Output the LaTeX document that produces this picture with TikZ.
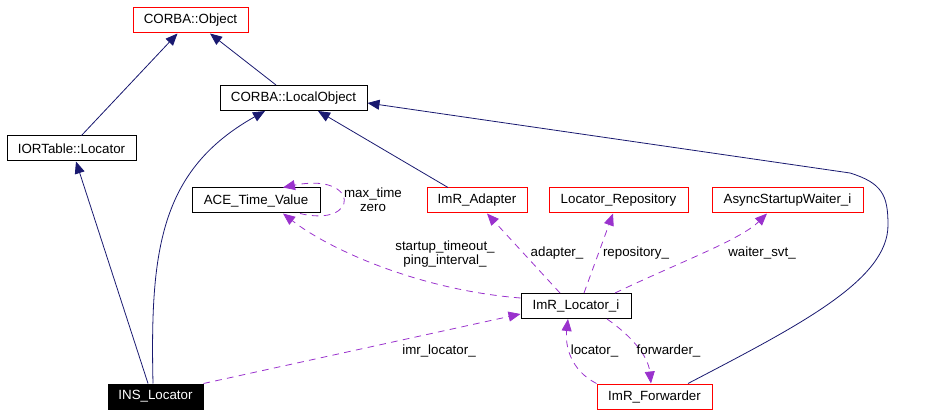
\documentclass[tikz,border=0pt]{standalone}
\usepackage{fontspec}
\setmainfont{Liberation Sans}
\usetikzlibrary{calc, arrows.meta}
\definecolor{inheritblue}{HTML}{191970}
\definecolor{usepurple}{HTML}{9A32CD}
\tikzset{
    classbox/.style={draw=black, line width=0.75pt, minimum height=18.75pt,
        inner xsep=2pt, font=\fontsize{10}{10.5}\selectfont},
    refbox/.style={classbox, draw=red},
    focusbox/.style={classbox, fill=black, text=white},
    inherit/.style={draw=inheritblue, line width=0.6pt,
        -{Triangle[length=9pt, width=7.5pt]}},
    uses/.style={draw=usepurple, line width=0.6pt, dash pattern=on 5pt off 4pt,
        -{Triangle[length=9pt, width=7.5pt]}},
    edgelabel/.style={font=\fontsize{10}{10.5}\selectfont, align=center,
        inner sep=0pt},
}

\begin{document}
\begin{tikzpicture}[x=0.75pt, y=-0.75pt]
        \useasboundingbox (0, 0) rectangle (949, 416); % Page frame
        \node[refbox, minimum width=86.25pt] (corbaobject) at (190.5, 20.5)
            {CORBA::Object}; % Root class
        \node[classbox, minimum width=110.25pt] (localobject) at (293.5, 98)
            {CORBA::LocalObject};
        \node[classbox, minimum width=96.75pt] (iortable) at (71.5, 148.5)
            {IORTable::Locator};
        \node[classbox, minimum width=96pt] (timevalue) at (256, 200.5)
            {ACE\_Time\_Value};
        \foreach \cls/\xpos/\w/\txt in {adapter/477/75/ImR\_Adapter,
            repository/618.5/104.25/Locator\_Repository,
            waiter/787.5/113.25/AsyncStartupWaiter\_i}{
            \node[refbox, minimum width=\w pt] (\cls) at (\xpos, 200.5)
                {\txt}; % Member classes
        }
        \node[classbox, minimum width=82.5pt] (locator) at (576, 306)
            {ImR\_Locator\_i};
        \node[focusbox, minimum width=71.25pt] (inslocator) at (155.5, 396.5)
            {INS\_Locator}; % Documented class
        \node[refbox, minimum width=86.25pt] (forwarder) at (654.5, 396.5)
            {ImR\_Forwarder};

        % Inheritance
        \draw[inherit] ($(iortable.north)+(10, 0)$)
            -- ($(corbaobject.south)+(-13, 0)$);
        \draw[inherit] ($(localobject.north)+(-17.5, 0)$)
            -- ($(corbaobject.south)+(19.5, 0)$);
        \draw[inherit] ($(inslocator.north)+(-7.5, 0)$)
            -- ($(iortable.south)+(4.5, 0)$);
        \draw[inherit] ($(inslocator.north)+(-2.5, 0)$)
            .. controls (150, 250) and (160, 170) ..
            ($(localobject.south)+(-28.5, 0)$);
        \draw[inherit] ($(adapter.north)+(-29, 0)$)
            -- ($(localobject.south)+(24.5, 0)$);
        \draw[inherit] ($(forwarder.north)+(33.5, 0)$)
            .. controls (800, 325) and (888, 280) .. (888, 225)
            .. controls (888, 195) and (882, 183) .. (850, 173)
            -- ($(localobject.east)+(0, 5)$); % Long way round

        % Usage
        \draw[uses] ($(locator.west)+(0, -8)$)
            .. controls (420, 290) and (330, 250) ..
            ($(timevalue.south)+(27, 0)$);
        \draw[uses] ($(locator.north)+(-16, 0)$)
            -- ($(adapter.south)+(10, 0)$);
        \draw[uses] ($(locator.north)+(8, 0)$)
            -- ($(repository.south)+(-5.5, 0)$);
        \draw[uses] ($(locator.north)+(39, 0)$)
            .. controls (680, 262) and (740, 240) ..
            ($(waiter.south)+(-20.5, 0)$);
        \draw[uses] (inslocator.north east) -- ($(locator.west)+(0, 8)$);
        \draw[uses] ($(timevalue.south)+(44, 0)$)
            .. controls (360, 228) and (360, 172) ..
            ($(timevalue.north)+(27, 0)$); % Self loop
        \draw[uses] ($(locator.south)+(31, 0)$)
            .. controls (630, 335) and (648, 355) ..
            ($(forwarder.north)+(-3.5, 0)$);
        \draw[uses] (forwarder.north west)
            .. controls (570, 370) and (565, 345) ..
            ($(locator.south)+(-8, 0)$);

        % Edge labels
        \node[edgelabel] (timelabel) at (373, 200) {max\_time\\zero};
        \node[edgelabel] (timeoutlabel) at (445, 254)
            {startup\_timeout\_\\ping\_interval\_};
        \node[edgelabel] (adapterlabel) at (557, 253) {adapter\_};
        \node[edgelabel] (repositorylabel) at (636, 253) {repository\_};
        \node[edgelabel] (waiterlabel) at (762, 253) {waiter\_svt\_};
        \node[edgelabel] (imrlabel) at (439, 351) {imr\_locator\_};
        \node[edgelabel] (locatorlabel) at (594.5, 351) {locator\_};
        \node[edgelabel] (forwarderlabel) at (668.5, 351) {forwarder\_};
    \end{tikzpicture}
\end{document}
